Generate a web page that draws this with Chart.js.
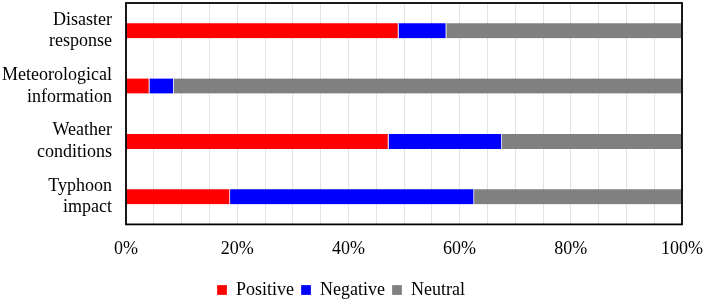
<!DOCTYPE html>
<html>
<head>
<meta charset="utf-8">
<script src="https://cdn.jsdelivr.net/npm/chart.js@4.4.1/dist/chart.umd.min.js"></script>
<style>
  html, body { margin: 0; padding: 0; background: #fff; }
  #wrap { width: 704px; height: 302px; }
</style>
</head>
<body>
<div id="wrap"><canvas id="chart"></canvas></div>
<script>
// categories (two-line labels) and share of each sentiment, in %
const categories = [
  ['Disaster', 'response'],
  ['Meteorological', 'information'],
  ['Weather', 'conditions'],
  ['Typhoon', 'impact']
];
const positive = [49.0, 4.2, 47.2, 18.7];
const negative = [8.6, 4.4, 20.4, 43.9];
const neutral = [42.4, 91.4, 32.4, 37.4];
const tickLabels = ['0%', '20%', '40%', '60%', '80%', '100%'];

const font = { family: "'Liberation Serif', 'Times New Roman', serif", size: 18 };

// black frame round the plot area
const frame = {
  id: 'frame',
  afterDraw(chart) {
    const a = chart.chartArea, ctx = chart.ctx;
    ctx.save();
    ctx.strokeStyle = '#000';
    ctx.lineWidth = 1.8;
    ctx.strokeRect(a.left, a.top, a.right - a.left, a.bottom - a.top);
    ctx.restore();
  }
};

const seg = { top: 0, bottom: 0, left: 0, right: 1 };

new Chart(document.getElementById('chart'), {
  type: 'bar',
  data: {
    labels: categories,
    datasets: [
      { label: 'Positive', data: positive, backgroundColor: '#ff0000', borderColor: '#fff', borderWidth: seg, barThickness: 15 },
      { label: 'Negative', data: negative, backgroundColor: '#0000ff', borderColor: '#fff', borderWidth: seg, barThickness: 15 },
      { label: 'Neutral', data: neutral, backgroundColor: '#808080', borderColor: '#fff', borderWidth: seg, barThickness: 15 }
    ]
  },
  options: {
    indexAxis: 'y',
    responsive: true,
    maintainAspectRatio: false,
    animation: false,
    layout: { padding: { top: 3, right: 22, left: 0, bottom: -7 } },
    scales: {
      x: {
        stacked: true,
        min: 0,
        max: 100,
        border: { display: false },
        grid: { color: '#e3e3e3', lineWidth: 1, drawTicks: false },
        ticks: {
          stepSize: 5,
          autoSkip: false,
          maxRotation: 0,
          padding: 14,
          color: '#000',
          font: font,
          callback: (v) => (v % 20 === 0 ? tickLabels[v / 20] : '')
        },
        afterFit(scale) { scale.paddingLeft = 0; scale.paddingRight = 0; }
      },
      y: {
        stacked: true,
        border: { display: false },
        grid: { display: false, drawTicks: false },
        ticks: { padding: 14, autoSkip: false, color: '#000', font: font },
        afterFit(scale) { scale.width = 126; scale.paddingTop = 0; scale.paddingBottom = 0; }
      }
    },
    plugins: {
      legend: {
        position: 'bottom',
        labels: {
          boxWidth: 10,
          boxHeight: 10,
          padding: 7,
          color: '#000',
          font: font
        }
      },
      tooltip: { enabled: false }
    }
  },
  plugins: [frame]
});
</script>
</body>
</html>
